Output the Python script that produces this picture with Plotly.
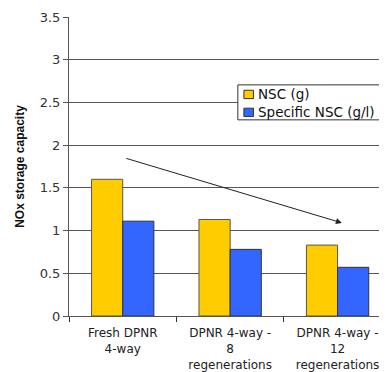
import plotly.graph_objects as go

categories = ["Fresh DPNR<br>4-way", "DPNR 4-way -<br>8<br>regenerations", "DPNR 4-way -<br>12<br>regenerations"]
series_names = ["NSC (g)", "Specific NSC (g/l)"]
nsc = [1.6, 1.13, 0.83]
specific_nsc = [1.11, 0.78, 0.57]
colors = ["#FFCC00", "#3366FF"]

fig = go.Figure()
fig.add_trace(go.Bar(x=categories, y=nsc, name=series_names[0],
                     marker=dict(color=colors[0], line=dict(color="#555555", width=1))))
fig.add_trace(go.Bar(x=categories, y=specific_nsc, name=series_names[1],
                     marker=dict(color=colors[1], line=dict(color="#333333", width=1))))

# trend arrow
fig.add_annotation(x=2.04, y=1.09, ax=0.02, ay=1.85, xref="x", yref="y", axref="x", ayref="y",
                   text="", showarrow=True, arrowhead=2, arrowsize=1.2, arrowwidth=1, arrowcolor="#222222")

# hand-made legend box (plotly's own legend swatches are too wide)
fig.add_shape(type="rect", xref="paper", yref="paper", x0=0.531, x1=0.984, y0=0.656, y1=0.773,
              line=dict(color="#333333", width=1), fillcolor="white")
for i, name in enumerate(series_names):
    yc = 0.741 - i * 0.06
    fig.add_shape(type="rect", xref="paper", yref="paper", x0=0.550, x1=0.580, y0=yc - 0.014, y1=yc + 0.014,
                  line=dict(color="#333333", width=1), fillcolor=colors[i])
    fig.add_annotation(x=0.588, y=yc, xref="paper", yref="paper", text=name, showarrow=False,
                       xanchor="left", yanchor="middle", font=dict(size=13.5, color="#111111"))

# page body has an 8px margin, so shrink the figure to fit the window
fig.update_layout(
    width=379, height=364,
    margin=dict(l=61, r=0, t=9, b=56, autoexpand=False),
    paper_bgcolor="white", plot_bgcolor="white",
    barmode="group", bargap=0.42, bargroupgap=0,
    font=dict(family="DejaVu Sans, Arial", size=12, color="#333333"),
    showlegend=False,
)
fig.update_xaxes(range=[-0.5, 2.46], showline=True, linecolor="#555555", linewidth=1,
                 ticks="outside", tickson="boundaries", ticklen=5, tickcolor="#333333",
                 ticklabelstandoff=6,
                 tickfont=dict(size=12, color="#222222"), showgrid=False)
fig.update_yaxes(range=[0, 3.5], dtick=0.5, showline=True, linecolor="#555555", linewidth=1,
                 ticks="outside", ticklen=5, tickcolor="#555555",
                 showgrid=True, gridcolor="#555555", gridwidth=1,
                 tickfont=dict(size=13, color="#333333"),
                 title=dict(text="<b>NOx storage capacity</b>",
                            font=dict(family="Liberation Sans, Arial", size=12, color="#111111"),
                            standoff=12))

fig.write_html("out.html")
